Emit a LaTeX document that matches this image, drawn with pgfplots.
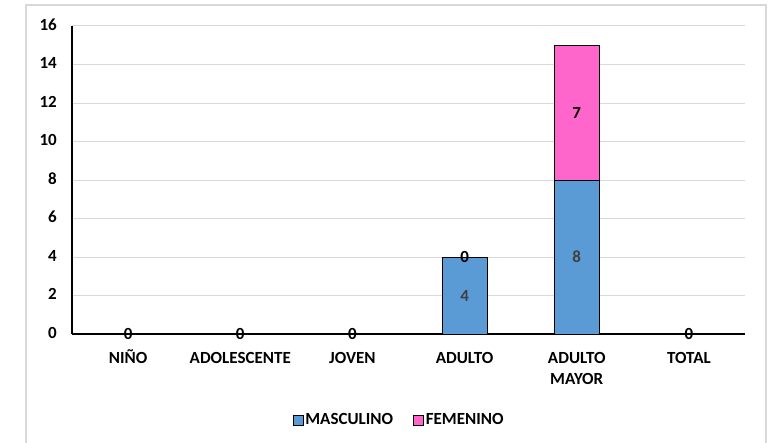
\documentclass[border=0pt]{standalone}
\usepackage{fontspec}
\setmainfont{Carlito}
\usepackage{pgfplots}
\usepackage{pgfplotstable}
\pgfplotsset{compat=1.18}
\definecolor{masc}{HTML}{5B9BD5}
\definecolor{fem}{HTML}{FF66CC}
\definecolor{rejilla}{HTML}{D9D9D9}
\definecolor{etiq}{HTML}{404040}
\newcommand\lblfont{\bfseries\fontsize{17}{21}\selectfont}

% grupo, masculino, femenino
\pgfplotstableread{
x m f
0 0 0
1 0 0
2 0 0
3 4 0
4 8 7
5 0 0
}\datos

\pgfplotsset{geometria/.style={
    at={(0pt,0pt)}, anchor=south west,
    scale only axis, width=673pt, height=308pt,
    xmin=-0.5, xmax=5.5, ymin=0, ymax=16, clip=false}}

\begin{document}
\begin{tikzpicture}
\useasboundingbox (-72pt,-108pt) rectangle (707pt,334pt);
\draw[rejilla, line width=1.2pt] (-46pt,-140pt) rectangle (694pt,329pt);
\begin{axis}[
    geometria,
    ybar stacked, bar width=45pt,
    xtick={0,...,5},
    xticklabels={NIÑO, ADOLESCENTE, JOVEN, ADULTO, ADULTO\\MAYOR, TOTAL},
    ytick={0,2,...,16},
    axis lines*=left,
    axis line style={-, black, line width=1.2pt},
    major tick length=0pt,
    ymajorgrids,
    grid style={rejilla, line width=1pt},
    /pgf/number format/assume math mode=true,
    tick label style={font=\lblfont, inner sep=0pt},
    typeset ticklabels with strut,
    yticklabel style={anchor=east, xshift=-15pt},
    xticklabel style={align=center, anchor=north, yshift=-14.3pt},
    legend style={at={(0.486,-0.278)}, anchor=center, legend columns=2,
        draw=none, font=\lblfont,
        /tikz/every even column/.append style={column sep=18pt}},
    legend image code/.code={\draw[#1, line width=0.8pt] (0pt,-5.5pt) rectangle (10pt,4.5pt);},
]
\addplot[fill=masc, draw=black, line width=1pt,
    nodes near coords, point meta=explicit symbolic,
    every node near coord/.append style={anchor=center, font=\lblfont, text=etiq}]
    table[x=x, y=m, meta=m] {\datos};
\addplot[fill=fem, draw=black, line width=1pt,
    nodes near coords, point meta=explicit symbolic,
    every node near coord/.append style={anchor=center, font=\lblfont, text=black}]
    table[x=x, y=f, meta=f] {\datos};
\legend{MASCULINO, FEMENINO}
\end{axis}
% etiquetas de los valores cero (encima de la columna masculina)
\begin{axis}[geometria, hide axis]
\addplot[draw=none, mark=none,
    restrict expr to domain={\thisrow{f}}{0:0},
    nodes near coords, point meta=explicit symbolic,
    every node near coord/.append style={anchor=center, font=\lblfont, text=black}]
    table[x=x, y=m, meta=f] {\datos};
\end{axis}
\end{tikzpicture}
\end{document}
